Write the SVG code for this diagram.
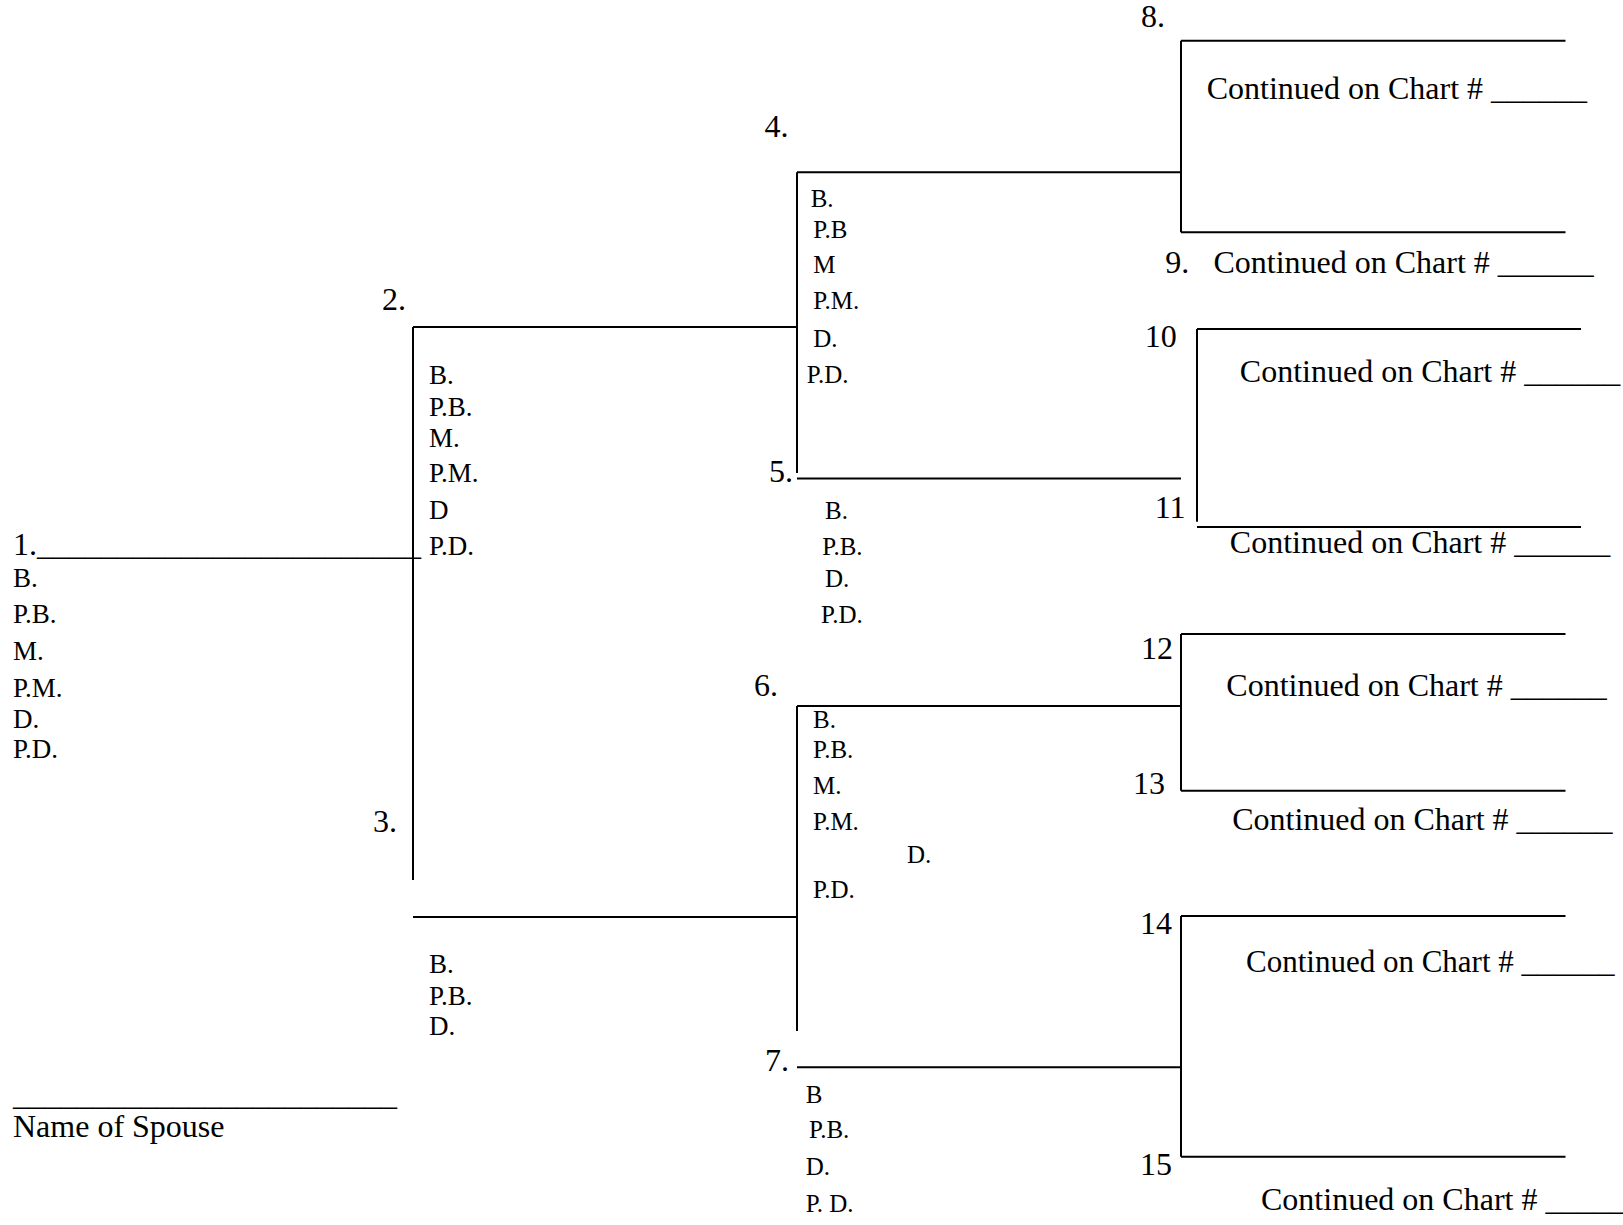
<svg xmlns="http://www.w3.org/2000/svg" width="1623" height="1225" viewBox="0 0 1623 1225">
<style>
  text { font-family: "Liberation Serif", "Times New Roman", serif; fill: #000; }
  .big { font-size: 32px; }
  .sl { font-size: 27px; }
  .sr { font-size: 25px; }
  .ln { stroke: #000; stroke-width: 2; fill: none; }
</style>
<rect width="1623" height="1225" fill="#fff"/>
<g id="connectors">
  <path class="ln" d="M413,327 V880 M413,327 H797 M413,917 H797"/>
  <path class="ln" d="M797,172.3 V473 M797,172.3 H1181 M797,478.5 H1181"/>
  <path class="ln" d="M797,706 V1031 M797,706 H1181 M797,1067.3 H1181"/>
  <path class="ln" d="M1181,40.7 V232.3 M1181,40.7 H1565.5 M1181,232.3 H1565.5"/>
  <path class="ln" d="M1197,329 V521.7 M1197,329 H1581 M1197,527 H1581"/>
  <path class="ln" d="M1181,634 V790.7 M1181,634 H1565.5 M1181,790.7 H1565.5"/>
  <path class="ln" d="M1181,916 V1156.7 M1181,916 H1565.5 M1181,1156.7 H1565.5"/>
</g>
<g id="person1">
  <text class="big" x="13" y="555">1.________________________</text>
  <text class="sl" x="13" y="586.7">B.</text>
  <text class="sl" x="13" y="622.7">P.B.</text>
  <text class="sl" x="13" y="660">M.</text>
  <text class="sl" x="13" y="696.7">P.M.</text>
  <text class="sl" x="13" y="728.3">D.</text>
  <text class="sl" x="13" y="758.3">P.D.</text>
</g>
<g id="spouse">
  <text class="big" x="13" y="1104.5">________________________</text>
  <text class="big" x="13" y="1137.3">Name of Spouse</text>
</g>
<g id="person2">
  <text class="big" x="382" y="310">2.</text>
  <text class="sl" x="429" y="384">B.</text>
  <text class="sl" x="429" y="416">P.B.</text>
  <text class="sl" x="429" y="446.7">M.</text>
  <text class="sl" x="429" y="481.7">P.M.</text>
  <text class="sl" x="429" y="519.3">D</text>
  <text class="sl" x="429" y="555">P.D.</text>
</g>
<g id="person3">
  <text class="big" x="373" y="832">3.</text>
  <text class="sl" x="429" y="972.7">B.</text>
  <text class="sl" x="429" y="1005">P.B.</text>
  <text class="sl" x="429" y="1035">D.</text>
</g>
<g id="person4">
  <text class="big" x="764.5" y="136.7">4.</text>
  <text class="sr" x="810.7" y="206.7">B.</text>
  <text class="sr" x="813.3" y="238.3">P.B</text>
  <text class="sr" x="813.3" y="272.5">M</text>
  <text class="sr" x="813.3" y="309">P.M.</text>
  <text class="sr" x="813.3" y="346.7">D.</text>
  <text class="sr" x="806.8" y="383.3">P.D.</text>
</g>
<g id="person5">
  <text class="big" x="769" y="481.7">5.</text>
  <text class="sr" x="825" y="519.3">B.</text>
  <text class="sr" x="822.3" y="555">P.B.</text>
  <text class="sr" x="825" y="587.3">D.</text>
  <text class="sr" x="821" y="623.3">P.D.</text>
</g>
<g id="person6">
  <text class="big" x="754" y="696">6.</text>
  <text class="sr" x="813" y="728.3">B.</text>
  <text class="sr" x="813" y="758.3">P.B.</text>
  <text class="sr" x="813" y="794">M.</text>
  <text class="sr" x="813" y="830">P.M.</text>
  <text class="sr" x="907" y="862.7">D.</text>
  <text class="sr" x="813" y="898.3">P.D.</text>
</g>
<g id="person7">
  <text class="big" x="765" y="1071">7.</text>
  <text class="sr" x="805.7" y="1102.7">B</text>
  <text class="sr" x="809" y="1138.3">P.B.</text>
  <text class="sr" x="805.7" y="1175">D.</text>
  <text class="sr" x="805.7" y="1211.7">P. D.</text>
</g>
<g id="person8">
  <text class="big" x="1141" y="27.3">8.</text>
  <text class="big" x="1206.7" y="98.5">Continued on Chart # ______</text>
</g>
<g id="person9">
  <text class="big" x="1165.3" y="272.7">9.</text>
  <text class="big" x="1213.4" y="272.7">Continued on Chart # ______</text>
</g>
<g id="person10">
  <text class="big" x="1144.8" y="346.7">10</text>
  <text class="big" x="1239.8" y="381.7">Continued on Chart # ______</text>
</g>
<g id="person11">
  <text class="big" x="1154.7" y="518.3">11</text>
  <text class="big" x="1229.8" y="553.3">Continued on Chart # ______</text>
</g>
<g id="person12">
  <text class="big" x="1141" y="659.3">12</text>
  <text class="big" x="1226.3" y="696">Continued on Chart # ______</text>
</g>
<g id="person13">
  <text class="big" x="1133" y="794">13</text>
  <text class="big" x="1232.2" y="830">Continued on Chart # ______</text>
</g>
<g id="person14">
  <text class="big" x="1140" y="934">14</text>
  <text class="big" x="1246" y="971.7" style="font-size:31px">Continued on Chart # ______</text>
</g>
<g id="person15">
  <text class="big" x="1140" y="1175">15</text>
  <text class="big" x="1261" y="1210">Continued on Chart # _____</text>
</g>
</svg>
